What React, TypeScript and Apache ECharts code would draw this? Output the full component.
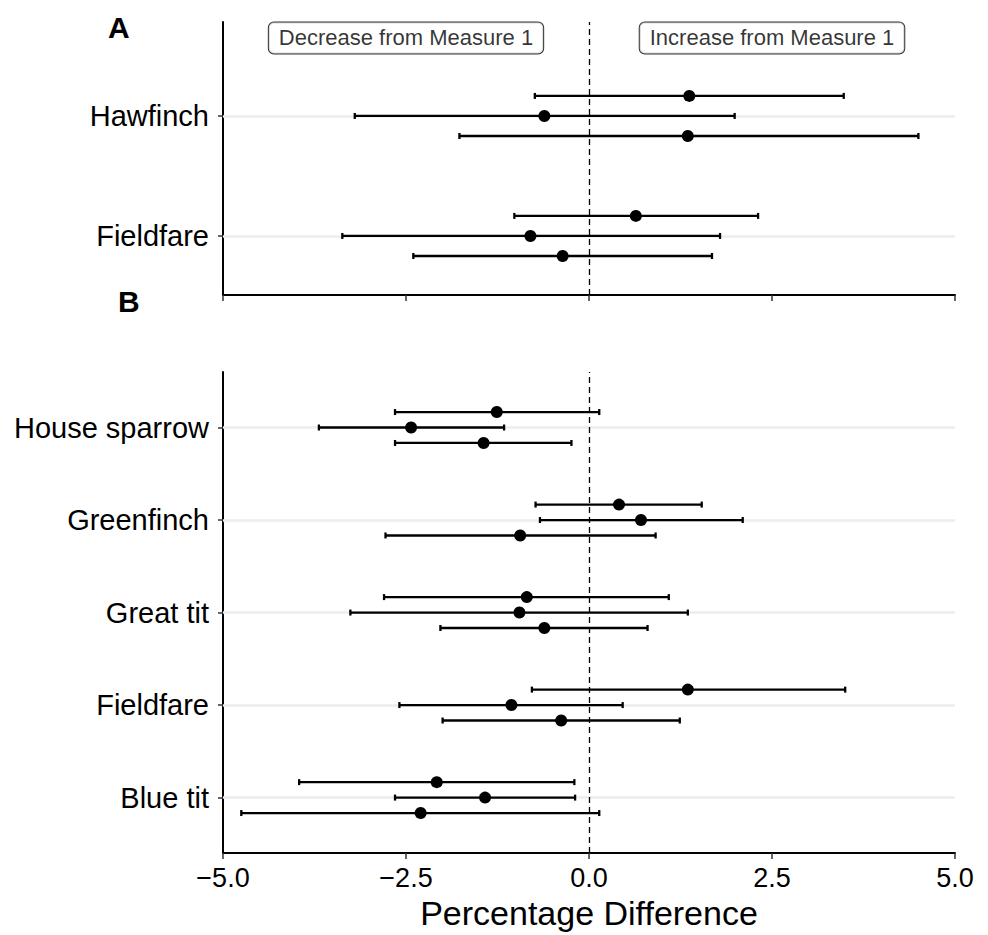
import React, { useEffect, useRef } from "react";
import * as echarts from "echarts";

// ---------- Data ----------
// Panel A (y index: 1 = Fieldfare, 2 = Hawfinch)
const catsA = ["Fieldfare", "Hawfinch"];
const estTopA = [0.64, 1.37];
const loTopA = [-1.02, -0.74];
const hiTopA = [2.31, 3.48];
const estMidA = [-0.8, -0.61];
const loMidA = [-3.37, -3.2];
const hiMidA = [1.79, 1.99];
const estBotA = [-0.36, 1.35];
const loBotA = [-2.4, -1.77];
const hiBotA = [1.68, 4.5];

// Panel B (y index: 1 = Blue tit ... 5 = House sparrow)
const catsB = ["Blue tit", "Fieldfare", "Great tit", "Greenfinch", "House sparrow"];
const estTopB = [-2.08, 1.35, -0.85, 0.41, -1.26];
const loTopB = [-3.96, -0.78, -2.8, -0.73, -2.65];
const hiTopB = [-0.2, 3.5, 1.09, 1.54, 0.14];
const estMidB = [-1.42, -1.06, -0.95, 0.71, -2.43];
const loMidB = [-2.65, -2.59, -3.26, -0.67, -3.69];
const hiMidB = [-0.19, 0.46, 1.35, 2.1, -1.16];
const estBotB = [-2.3, -0.38, -0.61, -0.94, -1.44];
const loBotB = [-4.75, -2.0, -2.03, -2.78, -2.65];
const hiBotB = [0.14, 1.24, 0.8, 0.91, -0.24];

const xTicks = [-5, -2.5, 0, 2.5, 5];
const annotationTexts = ["Decrease from Measure 1", "Increase from Measure 1"];
const annotationX = [-2.5, 2.5];
const annotationY = 2.65;
const panelLetters = ["A", "B"];
const xTitle = "Percentage Difference";

const DODGE = 0.167;
const FONT = "'Liberation Sans', Arial, Helvetica, sans-serif";

function buildRows(cats: string[], groups: { est: number[]; lo: number[]; hi: number[]; off: number }[]) {
  const bars: number[][] = [];
  const pts: number[][] = [];
  groups.forEach((g) => {
    cats.forEach((_, i) => {
      const y = i + 1 + g.off;
      bars.push([g.lo[i], g.hi[i], y]);
      pts.push([g.est[i], y]);
    });
  });
  return { bars, pts };
}

const renderErrorBar = (params: any, api: any) => {
  const y = api.value(2);
  const p1 = api.coord([api.value(0), y]);
  const p2 = api.coord([api.value(1), y]);
  const h = 3;
  const style = { stroke: "#000", lineWidth: 2.3 };
  return {
    type: "group",
    children: [
      { type: "line", shape: { x1: p1[0], y1: p1[1], x2: p2[0], y2: p2[1] }, style },
      { type: "line", shape: { x1: p1[0], y1: p1[1] - h, x2: p1[0], y2: p1[1] + h }, style },
      { type: "line", shape: { x1: p2[0], y1: p2[1] - h, x2: p2[0], y2: p2[1] + h }, style },
    ],
  };
};

export default function App() {
  const ref = useRef<HTMLDivElement>(null);
  useEffect(() => {
    if (!ref.current) return;
    const chart = echarts.init(ref.current, null, { renderer: "svg" });

    const A = buildRows(catsA, [
      { est: estTopA, lo: loTopA, hi: hiTopA, off: DODGE },
      { est: estMidA, lo: loMidA, hi: hiMidA, off: 0 },
      { est: estBotA, lo: loBotA, hi: hiBotA, off: -DODGE },
    ]);
    const B = buildRows(catsB, [
      { est: estTopB, lo: loTopB, hi: hiTopB, off: DODGE },
      { est: estMidB, lo: loMidB, hi: hiMidB, off: 0 },
      { est: estBotB, lo: loBotB, hi: hiBotB, off: -DODGE },
    ]);

    const xAxisBase = (gridIndex: number, showLabels: boolean) => ({
      type: "value",
      gridIndex,
      min: xTicks[0],
      max: xTicks[xTicks.length - 1],
      interval: 2.5,
      axisLine: { show: true, onZero: false, lineStyle: { color: "#000", width: 2 } },
      axisTick: { show: true, length: 6, lineStyle: { color: "#333", width: 1.5 } },
      axisLabel: {
        show: showLabels,
        margin: 11,
        fontSize: 27,
        color: "#000",
        fontFamily: FONT,
        formatter: (v: number) => (v < 0 ? "\u2212" + Math.abs(v).toFixed(1) : v.toFixed(1)),
      },
      splitLine: { show: false },
    });

    const yAxisBase = (gridIndex: number, cats: string[], min: number, max: number) => {
      const vals = cats.map((_, i) => i + 1);
      return {
        type: "value",
        gridIndex,
        min,
        max,
        axisLine: { show: true, onZero: false, lineStyle: { color: "#000", width: 2 } },
        axisTick: { show: true, customValues: vals, length: 5, lineStyle: { color: "#333", width: 1.5 } },
        axisLabel: {
          show: true,
          customValues: vals,
          margin: 14,
          fontSize: 29,
          color: "#000",
          fontFamily: FONT,
          formatter: (v: number) => cats[Math.round(v) - 1] ?? "",
        },
        splitLine: { show: false },
      };
    };

    const refLines = (xi: number, cats: string[]) => ({
      type: "line",
      xAxisIndex: xi,
      yAxisIndex: xi,
      data: [],
      z: 1,
      silent: true,
      markLine: {
        z: 1,
        silent: true,
        symbol: ["none", "none"],
        label: { show: false },
        animation: false,
        data: [
          ...cats.map((_, i) => ({ yAxis: i + 1, lineStyle: { color: "#ededed", width: 2.5, type: "solid" } })),
          { xAxis: 0, lineStyle: { color: "#000", width: 1.3, type: [6, 4] } },
        ],
      },
    });

    const option: any = {
      animation: false,
      textStyle: { fontFamily: FONT },
      grid: [
        { left: 223, width: 732, top: 22, height: 273 },
        { left: 223, width: 732, top: 372, height: 483 },
      ],
      xAxis: [
        xAxisBase(0, false),
        {
          ...xAxisBase(1, true),
          name: xTitle,
          nameLocation: "middle",
          nameGap: 42,
          nameTextStyle: { fontSize: 34, color: "#000", fontFamily: FONT },
        },
      ],
      yAxis: [yAxisBase(0, catsA, 0.508, 2.783), yAxisBase(1, catsB, 0.4, 5.6)],
      graphic: [
        { type: "text", left: 108, top: 12, style: { text: panelLetters[0], font: `bold 30px ${FONT}`, fill: "#000" } },
        { type: "text", left: 118, top: 286, style: { text: panelLetters[1], font: `bold 30px ${FONT}`, fill: "#000" } },
      ],
      series: [
        refLines(0, catsA),
        refLines(1, catsB),
        {
          type: "custom",
          xAxisIndex: 0,
          yAxisIndex: 0,
          renderItem: renderErrorBar,
          encode: { x: [0, 1], y: 2 },
          data: A.bars,
          z: 3,
        },
        {
          type: "custom",
          xAxisIndex: 1,
          yAxisIndex: 1,
          renderItem: renderErrorBar,
          encode: { x: [0, 1], y: 2 },
          data: B.bars,
          z: 3,
        },
        {
          type: "scatter",
          xAxisIndex: 0,
          yAxisIndex: 0,
          symbolSize: 12,
          itemStyle: { color: "#000", opacity: 1 },
          data: A.pts,
          z: 4,
        },
        {
          type: "scatter",
          xAxisIndex: 1,
          yAxisIndex: 1,
          symbolSize: 12,
          itemStyle: { color: "#000", opacity: 1 },
          data: B.pts,
          z: 4,
        },
        {
          type: "scatter",
          xAxisIndex: 0,
          yAxisIndex: 0,
          symbolSize: 0,
          z: 5,
          silent: true,
          data: annotationTexts.map((t, i) => ({ name: t, value: [annotationX[i], annotationY] })),
          label: {
            show: true,
            position: "inside",
            formatter: "{b}",
            fontSize: 22,
            color: "#000",
            fontFamily: FONT,
            backgroundColor: "#fff",
            borderColor: "#000",
            borderWidth: 1,
            borderRadius: 5,
            padding: [5, 10, 4, 10],
          },
        },
      ],
    };
    chart.setOption(option);
    return () => chart.dispose();
  }, []);

  return (
    <div
      ref={ref}
      style={{ position: "fixed", left: 0, top: 0, width: 988, height: 935, background: "#fff" }}
    />
  );
}
